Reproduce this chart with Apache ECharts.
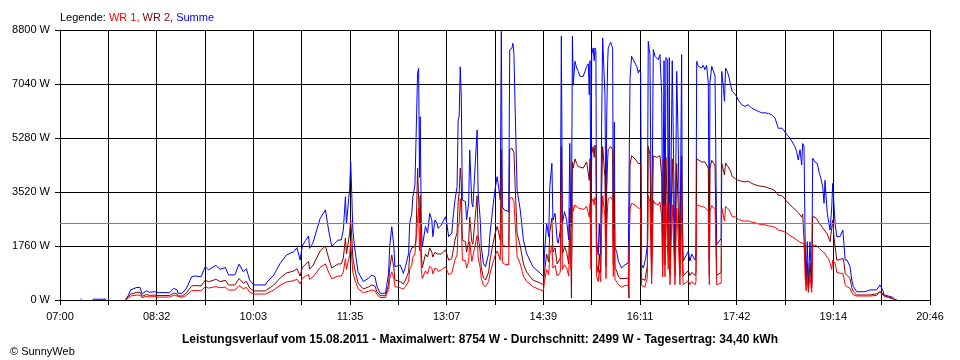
<!DOCTYPE html>
<html>
<head>
<meta charset="utf-8">
<script src="https://cdn.jsdelivr.net/npm/echarts@6/dist/echarts.min.js"></script>
<style>html,body{margin:0;padding:0;background:#fff;}#c{width:960px;height:360px;}</style>
</head>
<body>
<div id="c"></div>
<script>
// minutes after 07:00
const times = [
 19.5,20.5,21,31,44,45,62,65,67,73,
 76,78,82,85,90,93,104,108,111,112,
 116,120,125,128,134,138,141,142,148,152,
 157,160,166,170,174,177,180,184,195,196,
 203,209,215,222,225,228,230,233,236,237,
 240,247,252,255,258,261,264,267,269,271,
 272,274,275,276,277,278,280,283,288,293,
 296,299,301,304,309,310,312,313,315,317,
 318,323,326,328,331,332,334,335,337,338,
 339.5,340.5,341.3,342,343,344,347,349,351,353,
 354,356,358,359,362,366,367,369,372,373,
 375,377,378,379,380,381,382,385,386,388,
 389,391,392,396,397,399,400,402,404,407,
 408,411,413,415,416,418,419,420,422,426,
 427,429,430,431,432,434,437,440,443,449,
 456,459,460,462,464,465,467,468,470,472,
 473,475,476,477,479,481,483,484,485,485.6,
 486.5,487.3,488.9,490.5,492.1,493.7,496.8,498.4,500,501.6,
 502.5,503.2,504.1,504.8,506.2,507.2,507.9,508.8,509.5,511,
 512,513.3,514.2,515.2,516.5,517.4,518.4,519,520,520.5,
 521.5,522.8,523.8,524.7,525.3,526.3,526.9,528.5,530.1,531.7,
 533.2,536.4,539.5,540.2,541.2,542.7,544.3,545.9,547.5,549.1,
 550,551.3,552.2,553.8,555.4,556.3,557.6,558.5,560.1,561.7,
 563.3,564.9,566.5,568,569.6,571.3,572.2,573.5,574.4,575.3,
 576.6,577.5,578.5,579.1,581.3,583.9,585.5,587,588.6,590.2,
 590.8,591.7,596.5,598.1,599.7,602.9,603.8,604.5,606,609.2,
 610.7,612.3,613.9,615.5,616.5,617.1,618.8,620.3,621.9,623.5,
 625.1,627.7,628.3,629.9,630.9,631.9,633.5,635,636.6,638.2,
 641.4,644,647.2,650.3,653.5,656.7,659.8,663,666.2,669.3,
 672.5,675.6,678.8,682,685.5,689.3,693.1,697.8,699.4,700.9,
 702.6,704.2,705.1,706.4,707.4,708.3,709.5,710.5,712,713.7,
 714.6,716.8,719,720.9,722.2,724.1,725.4,726.3,727.3,728.5,
 729.5,731.1,732.7,733.6,735,735.9,737.5,740.6,743.2,744.4,
 745.4,747.3,750.1,751.7,753.3,756.4,764.3,769.1,775.4,778.5,
 780.1,781.4,782.3,786.4,790.5,792.7,794.4
];
// Summe (W)
const summe = [
 30,30,null,25,25,null,0,160,330,410,
 410,195,300,250,270,240,240,380,330,220,
 220,380,760,780,760,1085,980,1030,1130,1000,
 1060,815,815,1170,920,1020,650,490,490,560,
 815,1195,1465,1575,1705,1300,1760,1935,2085,1685,
 1850,2660,2935,2280,1740,1850,1955,1955,2280,3365,
 2500,3260,3640,4510,3475,2280,1630,920,600,710,
 815,760,435,220,220,435,870,1740,2390,1740,
 1085,1140,870,1085,1520,2500,2825,3365,3750,3750,
 7390,7550,4000,5975,2500,1740,2400,2180,2825,2610,
 2065,2610,2500,2335,2445,2715,2550,2065,2180,2610,
 3260,3690,5865,6000,7600,6625,3260,3205,2610,3150,
 4890,3150,3040,5540,3480,2610,1740,1195,1085,1520,
 2065,3040,3585,4020,3800,3260,8754,3040,2930,2880,
 8150,8200,8365,8000,6420,3585,2930,1955,1520,1085,
 870,760,1520,2500,2065,3690,4455,2600,2825,1955,
 1850,2280,8600,2500,2880,2610,1955,5105,2500,2400,
 8595,7000,7780,7560,7450,7290,7290,7450,7615,7700,
 6690,7800,2565,8000,8215,7800,8215,8100,1915,1475,
 2500,1475,5600,8540,8540,6690,1800,5800,7800,8215,
 8300,8400,8300,8200,1915,5800,1700,1585,1260,1150,
 1045,1150,1205,1205,7235,7940,7940,7725,7615,7400,
 7500,7400,1150,1045,1045,1400,1800,8430,8000,1300,
 8160,7940,7940,7830,8000,6690,1900,7800,1900,7900,
 7830,2500,7900,1270,7800,1270,7450,5000,1300,8000,
 3000,1270,1580,1270,1500,1300,1500,7780,7615,7560,
 7650,7505,7650,7100,1260,7100,7615,7560,7300,1800,
 1800,2000,7450,6900,6475,7560,7450,7290,7020,6800,
 6690,6515,6365,6310,6365,6255,6200,6150,6100,6100,
 6080,6040,5930,5595,5600,5430,5270,5000,4835,4560,
 4900,4400,5100,5000,2065,650,1900,435,1900,500,
 4620,4500,4455,4130,4000,3700,3150,3900,3400,2825,
 2825,2280,3000,3800,3000,2500,2065,2065,2280,1800,
 1300,1300,1085,650,435,270,270,330,330,490,
 540,300,165,130,90,20,0
];
// WR 2 (W)
const wr2 = [
 null,null,null,null,null,null,0,100,190,250,
 250,120,180,150,160,145,145,225,200,130,
 130,230,460,470,460,650,590,620,675,600,
 640,490,490,700,550,610,390,295,295,335,
 490,715,880,945,1020,780,1055,1160,1250,1010,
 1110,1600,1760,1370,1045,1110,1175,1175,1370,2020,
 1500,1955,2185,2600,2085,1370,980,550,360,425,
 490,455,260,140,140,260,520,1045,1465,1045,
 650,600,520,650,910,1500,1700,1740,1740,2000,
 4300,4345,2500,3400,1500,1050,1500,1400,1700,1560,
 1400,1560,1500,1450,1500,1630,1530,1300,1350,1560,
 1950,2200,3200,3500,4300,3800,1950,1900,1560,1900,
 2700,1900,1820,3400,2100,1560,1050,720,650,910,
 1240,1820,2150,2400,2280,1950,4900,1820,1760,1730,
 4900,4950,5000,4800,3850,2150,1760,1175,910,650,
 550,500,910,1500,1240,2200,2670,1560,1700,1175,
 1110,1370,5000,1500,1730,1560,1175,3000,1500,60,
 4500,4300,4600,4450,4350,4300,4300,4400,4500,4550,
 3900,4600,1550,4750,5000,4650,5050,4900,1150,900,
 1500,900,3400,5000,5000,4000,1100,3500,4600,4900,
 4950,5000,4950,4900,1150,3500,1050,950,780,700,
 640,700,720,60,4400,4700,4700,4600,4550,4450,
 4500,4450,700,640,640,850,1080,5000,4750,780,
 4700,4650,4650,4600,4700,4000,1150,4600,1150,4650,
 4600,1500,4650,800,4600,800,4450,3000,800,4700,
 1800,800,950,800,900,800,900,4600,4550,4500,
 4550,4500,4550,4300,800,4300,4550,4500,4400,800,
 820,900,4450,4465,4080,4465,4400,4300,4200,4030,
 3950,3900,3870,3850,3870,3800,3760,3720,3705,3690,
 3650,3620,3560,3420,3400,3250,3100,2950,2900,2850,
 2825,2700,2800,2750,1300,500,1200,350,1200,400,
 2715,2700,2610,2500,2445,2350,2300,2250,2200,2150,
 2100,1900,1950,2600,2000,1955,1300,1320,1360,1200,
 870,800,705,400,270,165,165,165,200,270,
 300,200,130,100,60,10,0
];
// WR 1 (W)
const wr1 = [
 null,null,null,null,null,null,0,60,130,160,
 160,75,120,100,110,95,95,155,130,90,
 90,150,300,310,300,435,390,410,435,400,
 420,325,325,470,370,410,260,195,195,225,
 325,480,585,630,680,520,705,775,835,675,
 740,1065,1175,910,695,740,780,780,910,1345,
 1000,1305,1455,1900,1390,910,650,370,240,285,
 325,305,175,80,80,175,350,695,920,695,
 435,400,350,435,610,1000,1130,1400,1500,1500,
 2600,3000,1600,2400,1000,700,950,850,1100,1040,
 850,1040,1000,930,980,1085,1020,830,870,1040,
 1300,1480,2400,2500,3300,2800,1300,1280,1040,1260,
 1900,1260,1215,2100,1400,1040,700,480,435,610,
 825,1215,1435,1600,1520,1300,3400,1215,1170,1150,
 3300,3350,3400,3200,2570,1435,1170,780,610,435,
 330,300,610,1000,825,1480,1780,1040,1130,780,
 740,910,3500,1000,1150,1040,780,2000,1000,1100,
 3100,2900,3100,3050,3000,2950,2950,3000,3050,3100,
 2700,3150,1000,3200,3300,3100,3350,3250,770,600,
 1000,600,2300,3400,3400,2700,700,2300,3100,3300,
 3300,3350,3300,3250,770,2300,680,640,500,470,
 420,470,480,480,2950,3150,3150,3100,3050,3000,
 3000,2980,470,420,420,560,720,3400,3200,520,
 3250,3150,3150,3100,3200,2700,760,3100,760,3150,
 3100,1000,3150,500,3100,500,3000,2000,500,3150,
 1200,500,630,500,600,500,600,3100,3050,3050,
 3080,3020,3080,2900,500,2900,3080,3050,2950,500,
 520,550,3000,3000,2575,3050,3000,2950,2850,2725,
 2700,2630,2585,2570,2580,2540,2520,2480,2455,2450,
 2420,2400,2370,2280,2250,2200,2100,2000,1950,1920,
 1900,1850,1880,1850,800,300,800,250,800,250,
 1790,1790,1750,1680,1630,1580,1560,1520,1450,1400,
 1350,1200,1000,1300,1250,1195,900,870,870,700,
 500,435,380,250,165,130,130,130,150,270,
 250,150,100,80,40,10,0
];
const tickLabels = ["07:00","08:32","10:03","11:35","13:07","14:39","16:11","17:42","19:14","20:46"];
const average = 2499;

const FONT = 'Liberation Sans';
const dayMinutes = 826;
const step = dayMinutes / 18;

function pairs(vals) { return times.map((t, i) => [t, vals[i]]); }

const chart = echarts.init(document.getElementById('c'), null, {renderer: 'canvas'});
chart.setOption({
  animation: false,
  backgroundColor: '#ffffff',
  textStyle: {fontFamily: FONT},
  title: [
    {
      text: '{k|Legende: }{r|WR 1, }{d|WR 2, }{b|Summe}',
      left: 55, top: 7,
      textStyle: {
        fontSize: 11, fontWeight: 'normal', fontFamily: FONT,
        rich: {
          k: {color: '#000000', fontSize: 11, fontFamily: FONT},
          r: {color: '#ff0000', fontSize: 11, fontFamily: FONT},
          d: {color: '#800000', fontSize: 11, fontFamily: FONT},
          b: {color: '#0000ff', fontSize: 11, fontFamily: FONT}
        }
      }
    },
    {
      text: 'Leistungsverlauf vom 15.08.2011 - Maximalwert: 8754 W - Durchschnitt: 2499 W - Tagesertrag: 34,40 kWh',
      left: 'center', top: 329,
      textStyle: {fontSize: 12, fontWeight: 'bold', color: '#000', fontFamily: FONT}
    },
    {
      text: '\u00a9 SunnyWeb',
      left: 5, top: 341,
      textStyle: {fontSize: 11, fontWeight: 'normal', color: '#000', fontFamily: FONT}
    }
  ],
  grid: {left: 60, top: 30, width: 870, height: 270, containLabel: false},
  xAxis: {
    type: 'value', min: 0, max: dayMinutes, interval: step,
    axisLine: {show: true, lineStyle: {color: '#000', width: 1}},
    axisTick: {show: true, length: 5, inside: false, lineStyle: {color: '#000', width: 1}},
    splitLine: {show: true, lineStyle: {color: '#000', width: 1}},
    axisLabel: {
      show: true, margin: 11, color: '#000', fontSize: 11, fontFamily: FONT,
      showMinLabel: true, showMaxLabel: true, hideOverlap: false,
      formatter: function (v) {
        const i = Math.round(v / step);
        if (Math.abs(v - i * step) > 0.5) return '';
        return (i % 2 === 0) ? (tickLabels[i / 2] || '') : '';
      }
    }
  },
  yAxis: {
    type: 'value', min: 0, max: 8800, interval: 1760,
    axisLine: {show: true, lineStyle: {color: '#000', width: 1}},
    axisTick: {show: true, length: 5, inside: false, lineStyle: {color: '#000', width: 1}},
    splitLine: {show: true, lineStyle: {color: '#000', width: 1}},
    axisLabel: {margin: 10, color: '#000', fontSize: 11, fontFamily: FONT,
      formatter: function (v) { return String(v) + ' W'; }}
  },
  series: [
    {
      name: 'Summe', type: 'line', data: pairs(summe), showSymbol: false, symbol: 'none',
      connectNulls: false, lineStyle: {color: '#0000ff', width: 1}, itemStyle: {color: '#0000ff'},
      z: 2,
      markLine: {
        silent: true, symbol: 'none', label: {show: false},
        lineStyle: {color: '#808080', width: 1, type: 'solid'},
        data: [{yAxis: average}], animation: false
      }
    },
    {
      name: 'WR 2', type: 'line', data: pairs(wr2), showSymbol: false, symbol: 'none',
      lineStyle: {color: '#800000', width: 1}, itemStyle: {color: '#800000'}, z: 3
    },
    {
      name: 'WR 1', type: 'line', data: pairs(wr1), showSymbol: false, symbol: 'none',
      lineStyle: {color: '#ff0000', width: 1}, itemStyle: {color: '#ff0000'}, z: 4
    }
  ]
});
</script>
</body>
</html>
